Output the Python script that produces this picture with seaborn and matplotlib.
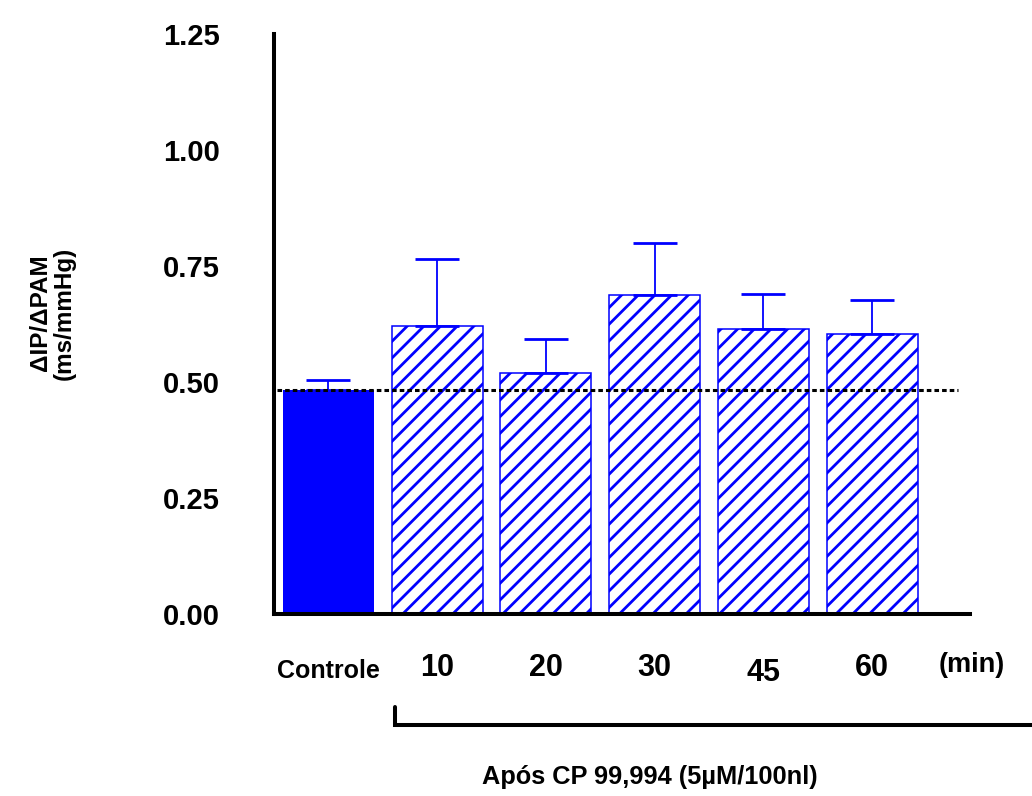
import matplotlib
matplotlib.use("Agg")
import matplotlib.pyplot as plt
import matplotlib.transforms as mtransforms
from matplotlib.lines import Line2D
import numpy as np
import pandas as pd
import seaborn as sns

# Data: baroreflex gain (ΔIP/ΔPAM) before and after CP 99,994 microinjection
grupos = ["Controle", "10", "20", "30", "45", "60"]
media = [0.483, 0.621, 0.519, 0.688, 0.614, 0.603]
epm = [0.021, 0.145, 0.074, 0.112, 0.076, 0.074]
yticks = [0.00, 0.25, 0.50, 0.75, 1.00, 1.25]
ytick_labels = ["0.00", "0.25", "0.50", "0.75", "1.00", "1.25"]

sns.set_theme(style="white")
plt.rcParams["font.family"] = ["Liberation Sans", "DejaVu Sans"]
plt.rcParams["font.weight"] = "bold"
plt.rcParams["text.color"] = "black"
plt.rcParams["xtick.color"] = "black"
plt.rcParams["ytick.color"] = "black"
plt.rcParams["axes.labelcolor"] = "black"
plt.rcParams["hatch.linewidth"] = 2.0
plt.rcParams["hatch.color"] = "#0000ff"

AZUL = "#0000ff"

fig = plt.figure(figsize=(10.32, 7.96), dpi=100)
ax = fig.add_axes([274 / 1032, 1 - 614 / 796, 696 / 1032, 580 / 796])

df = pd.DataFrame({"grupo": grupos, "valor": media})
sns.barplot(data=df, x="grupo", y="valor", color=AZUL, width=0.837,
            errorbar=None, saturation=1, ax=ax)

for i, barra in enumerate(ax.patches):
    if i == 0:
        barra.set_facecolor(AZUL)
        barra.set_edgecolor(AZUL)
        barra.set_linewidth(0)
    else:
        barra.set_facecolor("white")
        barra.set_edgecolor(AZUL)
        barra.set_linewidth(1.1)
        barra.set_hatch("//")

x = np.arange(len(grupos))
ax.errorbar(x, media, yerr=[np.zeros(len(epm)), epm], fmt="none",
            ecolor=AZUL, elinewidth=1.3, capsize=16, capthick=2.0, zorder=5)

# reference line at the control mean
ax.plot([-0.474, 5.79], [media[0], media[0]], color="black", lw=2.2,
        linestyle=(0, (1.5, 1.0)), zorder=6, solid_capstyle="butt")

ax.set_xlim(-0.501, 5.90)
ax.set_ylim(0, 1.25)
ax.set_yticks(yticks)
ax.set_yticklabels(ytick_labels)
ax.set_xlabel("")
ax.set_ylabel("")

for s in ["top", "right"]:
    ax.spines[s].set_visible(False)
for s in ["left", "bottom"]:
    ax.spines[s].set_linewidth(2.9)
    ax.spines[s].set_color("black")

ax.tick_params(axis="y", direction="out", length=12, width=2.9, color="black",
               pad=27, labelsize=21, labelcolor="black")
ax.tick_params(axis="x", length=0, pad=39, labelsize=22, labelcolor="black")
for lab in ax.get_yticklabels():
    lab.set_fontweight("bold")
for i, lab in enumerate(ax.get_xticklabels()):
    lab.set_fontweight("bold")
    lab.set_verticalalignment("center")
    if i == 0:
        lab.set_fontsize(18)
        lab.set_transform(lab.get_transform() +
                          mtransforms.ScaledTranslation(0, -3 / 100, fig.dpi_scale_trans))
    if grupos[i] == "45":
        lab.set_transform(lab.get_transform() +
                          mtransforms.ScaledTranslation(0, -5 / 100, fig.dpi_scale_trans))

# y-axis title
fig.text(52 / 1032, 1 - 313 / 796, "ΔIP/ΔPAM\n(ms/mmHg)", rotation=90,
         ha="center", va="center", multialignment="center",
         fontsize=17.5, fontweight="bold", linespacing=1.05, color="black")

# unit label
fig.text(972 / 1032, 1 - 665 / 796, "(min)", ha="center", va="center",
         fontsize=19.5, fontweight="bold", color="black")

# bracket marking the post-injection period
fig.add_artist(Line2D([395 / 1032, 395 / 1032, 1.0],
                      [1 - 707 / 796, 1 - 725 / 796, 1 - 725 / 796],
                      color="black", lw=2.9, solid_joinstyle="miter"))
fig.text(650 / 1032, 1 - 777 / 796, "Após CP 99,994 (5µM/100nl)",
         ha="center", va="center", fontsize=18.3, fontweight="bold", color="black")

fig.savefig("out.png", dpi=100)
